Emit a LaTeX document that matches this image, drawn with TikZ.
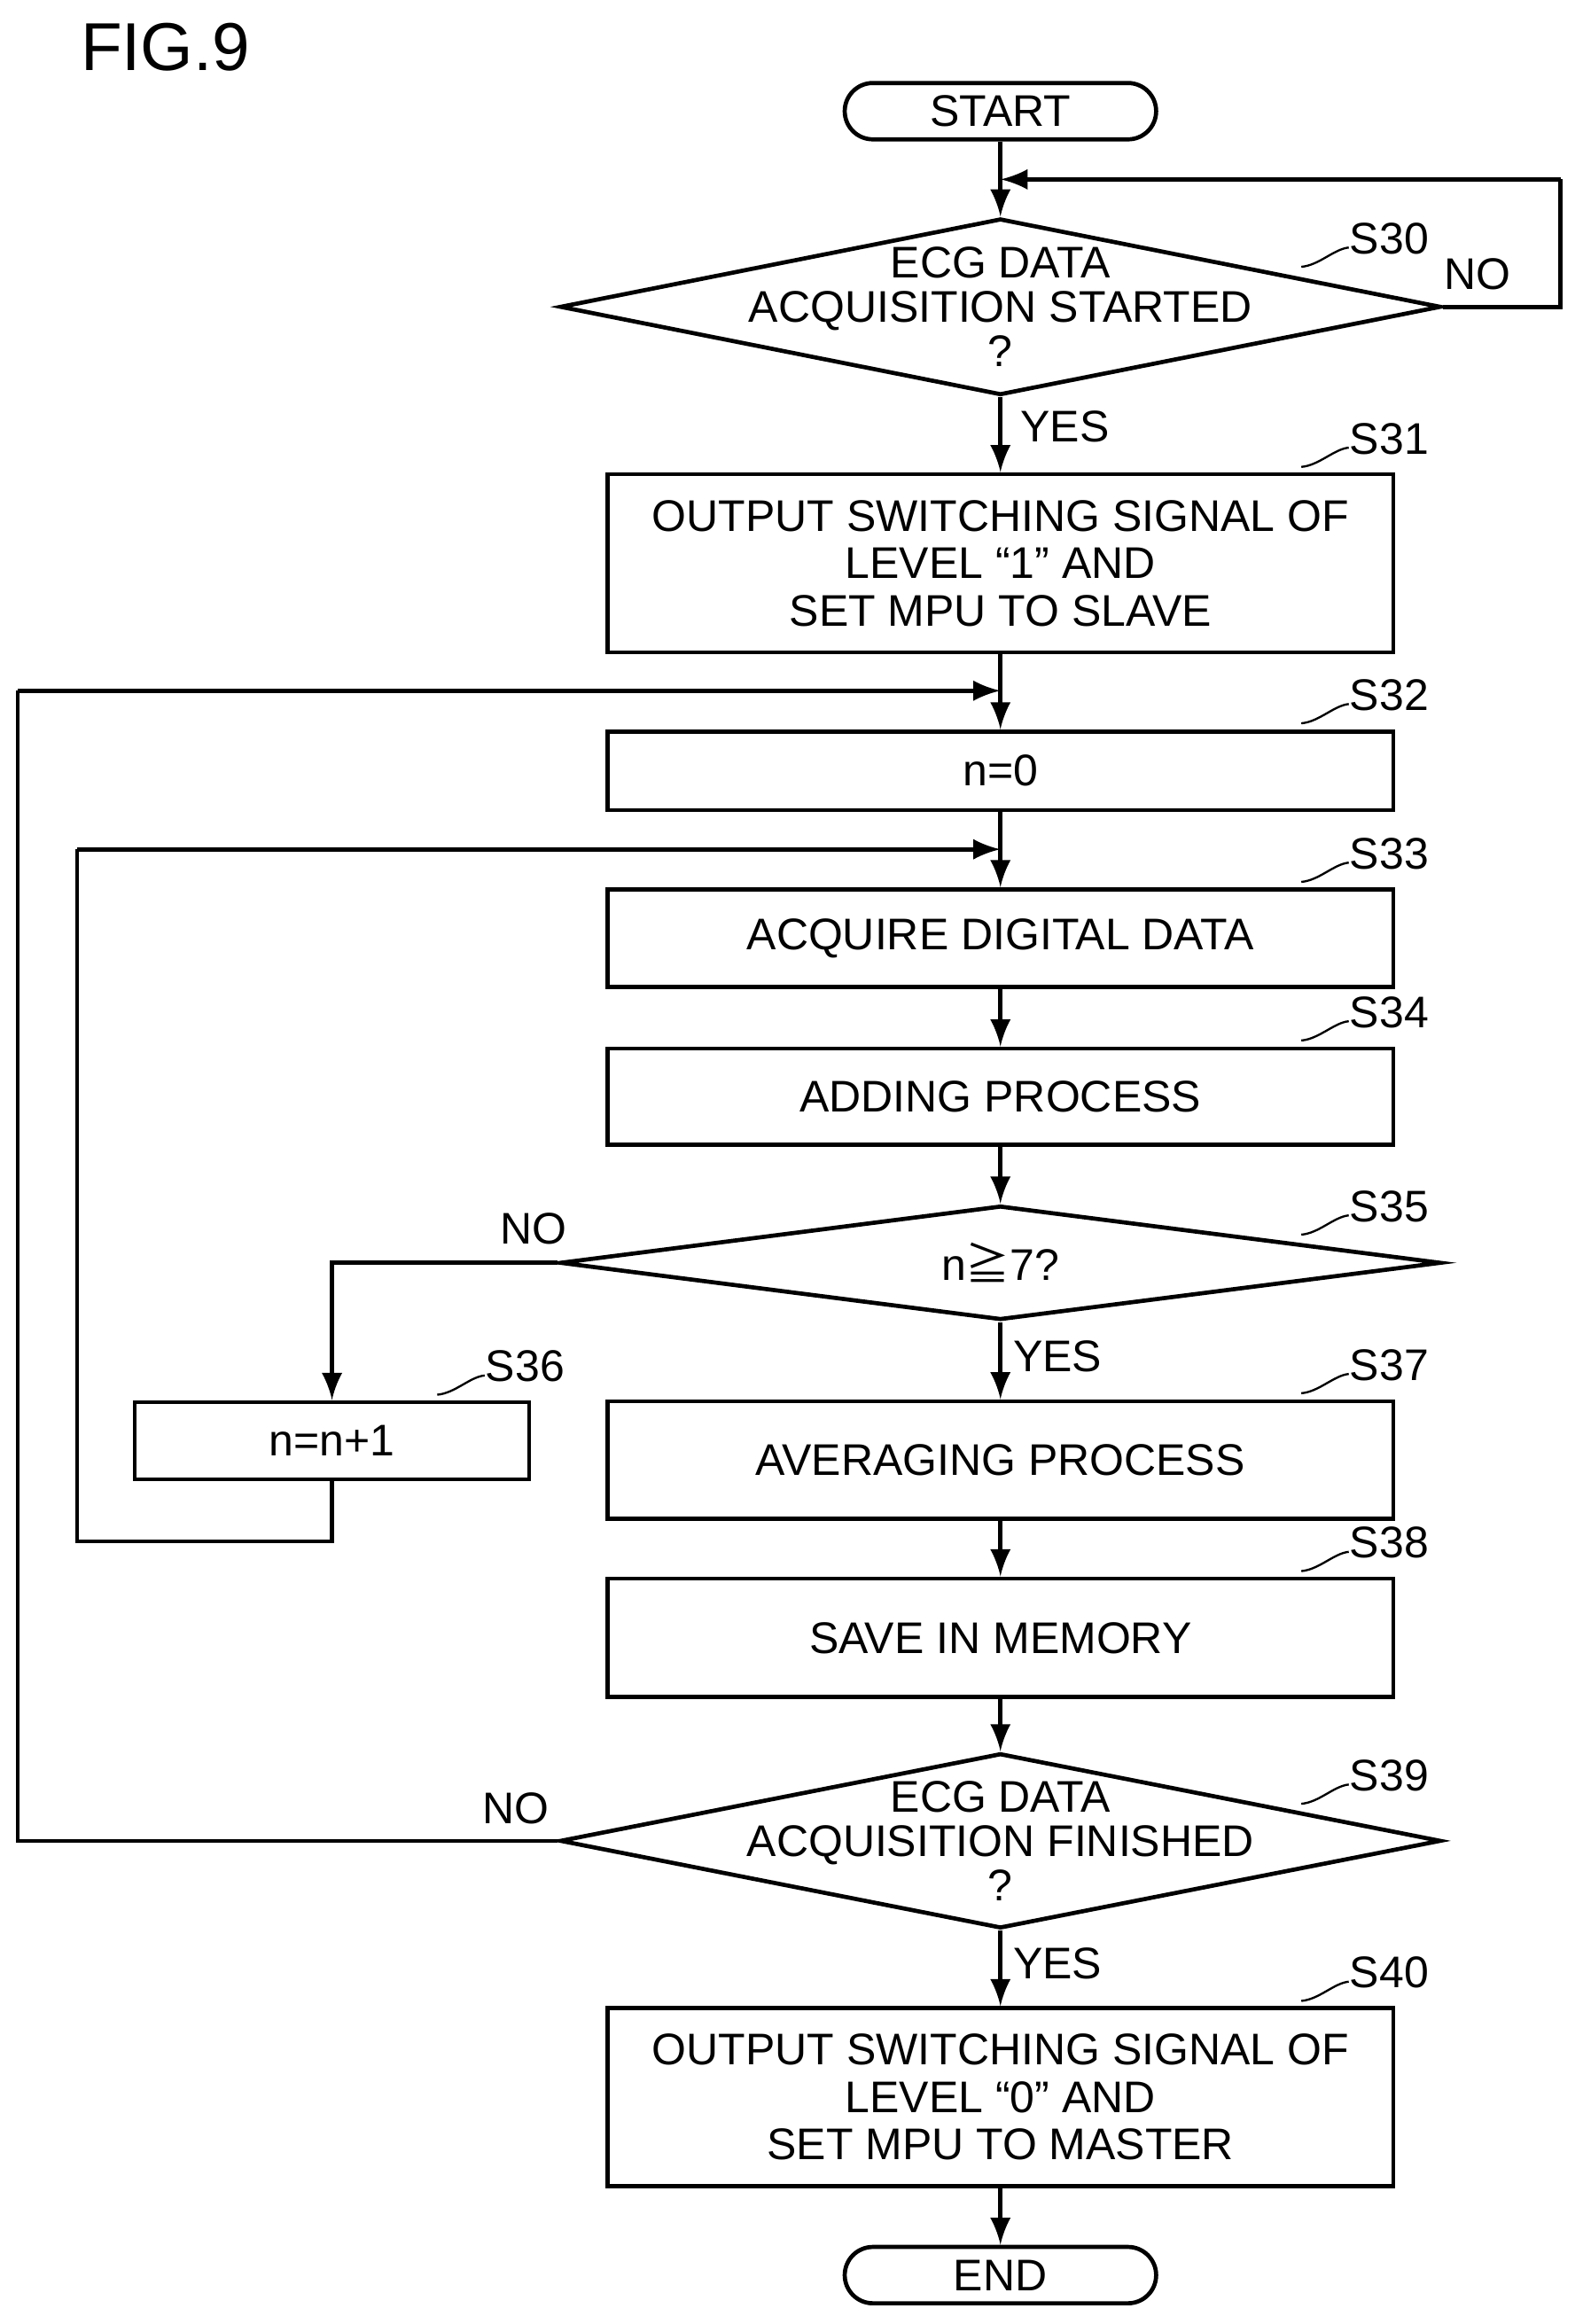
\documentclass[tikz,border=0pt]{standalone}
\usepackage{fontspec}
\setmainfont{Liberation Sans}
\newfontfamily\cjk{Noto Sans CJK JP}
\usetikzlibrary{shapes.geometric}
\tikzstyle{proc}=[rectangle,draw=black,thick,minimum width=5.3cm,inner sep=0pt,align=center,font=\fontsize{8.5}{9.1}\selectfont]
\tikzstyle{term}=[rectangle,rounded corners=0.19cm,draw=black,thick,minimum width=2.1cm,minimum height=0.38cm,inner sep=0pt,font=\fontsize{8.5}{9.1}\selectfont]
\tikzstyle{ask}=[diamond,draw=black,thick,inner sep=0pt,minimum width=5.94cm]
\tikzstyle{txt}=[align=center,font=\fontsize{8.5}{8.5}\selectfont,inner sep=0pt]
\tikzstyle{flow}=[thick,-latex]
\newcommand{\steplabel}[3]{% x of right edge, y of top, text
  \draw (#1-62,#2-5) .. controls (#1-50,#2-6) and (#1-40,#2-17) .. (#1-30,#2-18);
  \node [txt,anchor=west] at (#1-30,#2-24) {#3};}
\begin{document}
\begin{tikzpicture}[x=0.01cm,y=-0.01cm]
	\useasboundingbox (0,0) rectangle (1068,1568);
	\node [font=\fontsize{13}{15}\selectfont,anchor=west] (fig) at (42,32) {FIG.9};
	\node [term] (start) at (675,75) {START};
	\node [ask,minimum height=1.19cm] (s30) at (675,207) {};
	\node [txt] (t30) at (675,207) {ECG DATA\\ACQUISITION STARTED\\?};
	\node [proc,minimum height=1.2cm] (s31) at (675,380) {OUTPUT SWITCHING SIGNAL OF\\LEVEL “1” AND\\SET MPU TO SLAVE};
	\node [proc,minimum height=0.53cm] (s32) at (675,520) {n=0};
	\node [proc,minimum height=0.66cm] (s33) at (675,633) {ACQUIRE DIGITAL DATA};
	\node [proc,minimum height=0.65cm] (s34) at (675,740) {ADDING PROCESS};
	\node [ask,minimum height=0.77cm] (s35) at (675,852) {};
	\node [txt] (t35) at (675,852) {n{\cjk ≧}7?};
	\node [proc,minimum width=2.66cm,minimum height=0.52cm] (s36) at (224,972) {n=n+1};
	\node [proc,minimum height=0.79cm] (s37) at (675,985) {AVERAGING PROCESS};
	\node [proc,minimum height=0.8cm] (s38) at (675,1105) {SAVE IN MEMORY};
	\node [ask,minimum height=1.18cm] (s39) at (675,1242) {};
	\node [txt] (t39) at (675,1242) {ECG DATA\\ACQUISITION FINISHED\\?};
	\node [proc,minimum height=1.2cm] (s40) at (675,1415) {OUTPUT SWITCHING SIGNAL OF\\LEVEL “0” AND\\SET MPU TO MASTER};
	\node [term] (end) at (675,1535) {END};
	% step labels
	\steplabel{940}{185}{S30}
	\steplabel{940}{320}{S31}
	\steplabel{940}{493}{S32}
	\steplabel{940}{600}{S33}
	\steplabel{940}{707}{S34}
	\steplabel{940}{838}{S35}
	\steplabel{357}{946}{S36}
	\steplabel{940}{945}{S37}
	\steplabel{940}{1065}{S38}
	\steplabel{940}{1222}{S39}
	\steplabel{940}{1355}{S40}
	% connectors
	\coordinate (j30) at (675,121);
	\coordinate (j32) at (675,466);
	\coordinate (j33) at (675,573);
	\draw [flow] (start) -- (s30);
	\draw [thick] (s30.east) -- (1053,207) -- (1053,121);
	\draw [flow] (1053,121) -- (j30);
	\node [txt] (no30) at (997,185) {NO};
	\draw [flow] (s30) -- (s31);
	\node [txt,anchor=west] (yes30) at (688,288) {YES};
	\draw [flow] (s31) -- (s32);
	\draw [flow] (s32) -- (s33);
	\draw [flow] (s33) -- (s34);
	\draw [flow] (s34) -- (s35);
	\draw [flow] (s35.west) -| (s36.north);
	\node [txt] (no35) at (360,829) {NO};
	\draw [flow] (s35) -- (s37);
	\node [txt,anchor=west] (yes35) at (683,915) {YES};
	\draw [thick] (s36.south) |- (52,1040) -- (52,573);
	\draw [flow] (52,573) -- (j33);
	\draw [flow] (s37) -- (s38);
	\draw [flow] (s38) -- (s39);
	\draw [thick] (s39.west) -- (12,1242) -- (12,466);
	\draw [flow] (12,466) -- (j32);
	\node [txt] (no39) at (348,1220) {NO};
	\draw [flow] (s39) -- (s40);
	\node [txt,anchor=west] (yes39) at (683,1325) {YES};
	\draw [flow] (s40) -- (end);
\end{tikzpicture}
\end{document}
